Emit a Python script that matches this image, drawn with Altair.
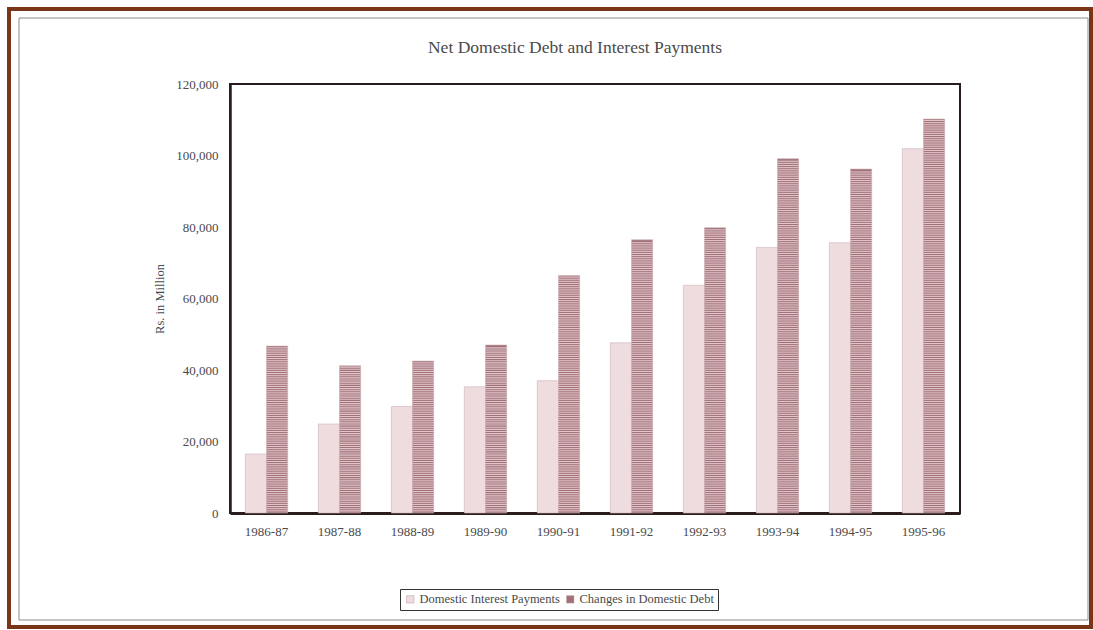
import altair as alt
import numpy as np
import pandas as pd

# Fiscal years and series (Rs. in million)
years = ["1986-87", "1987-88", "1988-89", "1989-90", "1990-91",
         "1991-92", "1992-93", "1993-94", "1994-95", "1995-96"]
interest_payments = [16500, 24900, 29800, 35300, 37000, 47600, 63700, 74300, 75600, 101900]
debt_changes = [46700, 41200, 42500, 47000, 66400, 76400, 79800, 99100, 96200, 110200]
series_names = ["Domestic Interest Payments", "Changes in Domestic Debt"]
y_ticks = [0, 20000, 40000, 60000, 80000, 100000, 120000]
chart_title = "Net Domestic Debt and Interest Payments"

SERIF = "Liberation Serif"
TEXT = "#4a4a4a"
LIGHT = "#eedcdf"
DARK_BASE = "#a1717a"
STRIPE = "#e9ced1"

bars = pd.DataFrame({
    "year": years * 2,
    "series": [series_names[0]] * len(years) + [series_names[1]] * len(years),
    "value": interest_payments + debt_changes,
})

# horizontal hatching for the debt bars, one line every 600 units up to each bar's value
stripe_rows = []
for yr, v in zip(years, debt_changes):
    for s in np.arange(600, v - 300, 600):
        stripe_rows.append({"year": yr, "series": series_names[1], "value": float(s)})
stripes = pd.DataFrame(stripe_rows)

x_enc = alt.X("year:N", sort=years, title=None,
              scale=alt.Scale(paddingInner=0.42, paddingOuter=0.21),
              axis=alt.Axis(labelAngle=0, ticks=False, labelPadding=12,
                            labelFont=SERIF, labelFontSize=13, labelColor=TEXT,
                            domainColor="#2a1c1c", domainWidth=3))
xoff = alt.XOffset("series:N", sort=series_names, scale=alt.Scale(paddingInner=0, paddingOuter=0))
y_enc = alt.Y("value:Q", title="Rs. in Million",
              scale=alt.Scale(domain=[0, 120000], nice=False),
              axis=alt.Axis(values=y_ticks, format=",d", ticks=False, grid=False,
                            labelPadding=12, labelFont=SERIF, labelFontSize=13,
                            labelColor=TEXT, titleFont=SERIF, titleFontSize=12.5,
                            titleFontWeight="normal", titleColor=TEXT, titlePadding=9,
                            domainColor="#2a1c1c", domainWidth=2.5))

bar_layer = alt.Chart(bars).mark_bar(stroke="#cdb2b6", strokeWidth=0.6).encode(
    x=x_enc,
    xOffset=xoff,
    y=y_enc,
    fill=alt.Fill("series:N", sort=series_names, title=None,
                  scale=alt.Scale(domain=series_names, range=[LIGHT, DARK_BASE])),
)

stripe_layer = alt.Chart(stripes).mark_tick(
    color=STRIPE, thickness=1.1, size=21, opacity=0.9
).encode(
    x=alt.X("year:N", sort=years),
    xOffset=alt.XOffset("series:N", sort=series_names),
    y=alt.Y("value:Q"),
)

# page frame: heavy brown outer border and a thin grey inner border
frame_df = pd.DataFrame({"label": [chart_title]})
outer = alt.Chart(frame_df).mark_rect(
    fill="transparent", stroke="#7a3418", strokeWidth=4
).encode(x=alt.value(-221), x2=alt.value(861), y=alt.value(-75), y2=alt.value(543))
inner = alt.Chart(frame_df).mark_rect(
    fill="transparent", stroke="#8a8a8a", strokeWidth=1
).encode(x=alt.value(-211), x2=alt.value(858), y=alt.value(-66), y2=alt.value(536))

# chart heading, set above the plot frame
heading = alt.Chart(frame_df).mark_text(
    font=SERIF, fontSize=17.5, color=TEXT, align="center", baseline="alphabetic"
).encode(x=alt.value(345), y=alt.value(-31), text="label:N")

chart = alt.layer(outer, inner, heading, bar_layer, stripe_layer).properties(
    width=730,
    height=429,
    autosize=alt.AutoSizeParams(type="none"),
    padding={"left": 230, "top": 84, "right": 133, "bottom": 117},
    background="white",
).configure_view(
    stroke="#2a1c1c", strokeWidth=2
).configure_legend(
    orient="none", legendX=170, legendY=505, direction="horizontal",
    strokeColor="#333333", strokeWidth=1, padding=4, cornerRadius=0,
    labelFont=SERIF, labelFontSize=12.5, labelColor=TEXT,
    symbolType="square", symbolSize=55, symbolStrokeWidth=0.5,
    symbolStrokeColor="#b89ca0", columnPadding=4, labelOffset=3,
)

chart.save("out.html", embed_options={"renderer": "svg", "actions": False})
